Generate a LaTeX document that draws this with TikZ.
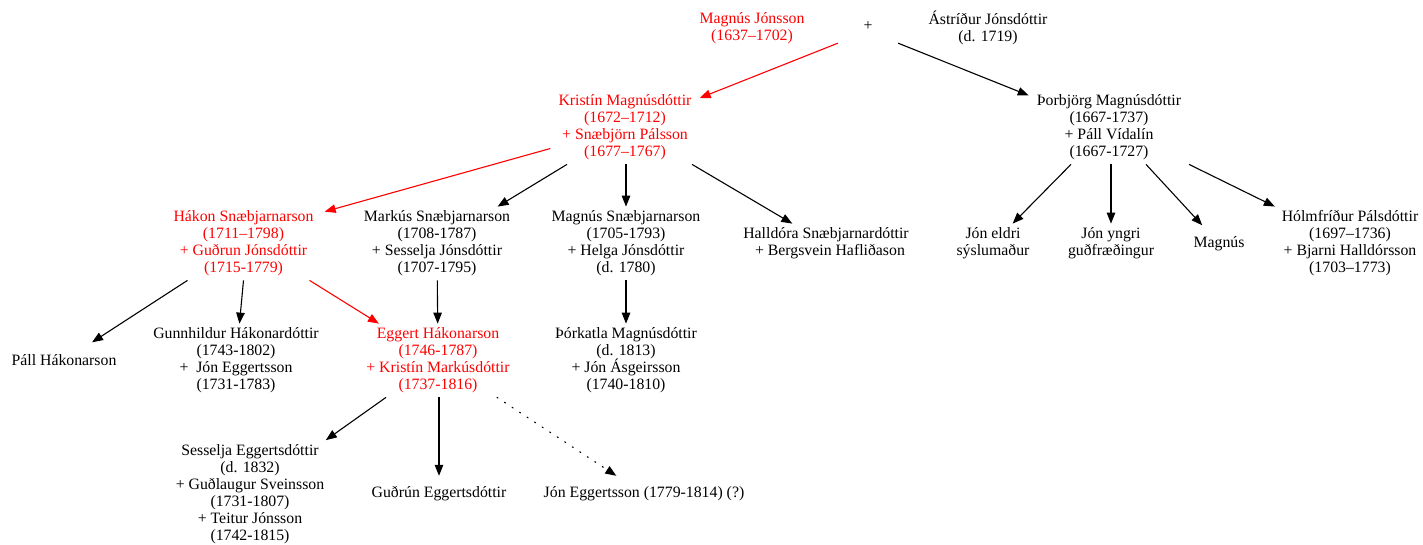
\documentclass[tikz,border=0pt]{standalone}
\usepackage{fontspec}
\setmainfont{Liberation Serif}
\usetikzlibrary{arrows.meta}
\begin{document}
\begin{tikzpicture}[x=1pt,y=1pt,
  person/.style={align=center,inner xsep=8pt,inner ysep=4pt,minimum height=36pt,
    font=\fontsize{15.8pt}{17pt}\selectfont},
  hl/.style={person,text=red},
  edge/.style={draw=black,line width=1.1pt,-{Triangle[length=11pt,width=8.5pt]}},
  redge/.style={edge,draw=red,-{Triangle[length=11pt,width=8.5pt,fill=red]}},
  dotedge/.style={edge,line cap=round,dash pattern=on 1.2pt off 7.8pt}]
\useasboundingbox (0,0) rectangle (1423,-544);
% generation 0
\node[hl] (magnus) at (752,-28) {Magnús Jónsson\\(1637–1702)};
\node[person,minimum width=60pt,minimum height=34pt,inner sep=0pt] (plus) at (868,-26) {+};
\node[person] (astridur) at (988,-28) {Ástríður Jónsdóttir\\(d. 1719)};
% generation 1
\node[hl] (kristin) at (625,-127.5) {Kristín Magnúsdóttir\\(1672–1712)\\+ Snæbjörn Pálsson\\(1677–1767)};
\node[person] (thorbjorg) at (1109,-127.5) {Þorbjörg Magnúsdóttir\\(1667-1737)\\+ Páll Vídalín\\(1667-1727)};
% generation 2
\node[hl] (hakon) at (243.5,-243.5) {Hákon Snæbjarnarson\\(1711–1798)\\+ Guðrun Jónsdóttir\\(1715-1779)};
\node[person] (markus) at (437,-243.5) {Markús Snæbjarnarson\\(1708-1787)\\+ Sesselja Jónsdóttir\\(1707-1795)};
\node[person] (magnusS) at (626,-243.5) {Magnús Snæbjarnarson\\(1705-1793)\\+ Helga Jónsdóttir\\(d. 1780)};
\node[person] (halldora) at (826,-243.5) {Halldóra Snæbjarnardóttir\\\ \ + Bergsvein Hafliðason};
\node[person] (joneldri) at (993,-243.5) {Jón eldri\\sýslumaður};
\node[person] (jonyngri) at (1111,-243.5) {Jón yngri\\guðfræðingur};
\node[person] (magnusP) at (1219,-243.5) {Magnús};
\node[person] (holmfridur) at (1350,-243.5) {Hólmfríður Pálsdóttir\\(1697–1736)\\+ Bjarni Halldórsson\\(1703–1773)};
% generation 3
\node[person] (pall) at (64,-360.5) {Páll Hákonarson};
\node[person] (gunnhildur) at (236,-360.5) {Gunnhildur Hákonardóttir\\(1743-1802)\\+\ \ Jón Eggertsson\\(1731-1783)};
\node[hl] (eggert) at (438,-360.5) {Eggert Hákonarson\\(1746-1787)\\+ Kristín Markúsdóttir\\(1737-1816)};
\node[person] (thorkatla) at (626,-360.5) {Þórkatla Magnúsdóttir\\(d. 1813)\\+ Jón Ásgeirsson\\(1740-1810)};
% generation 4
\node[person] (sesselja) at (250,-494) {Sesselja Eggertsdóttir\\(d. 1832)\\+ Guðlaugur Sveinsson\\(1731-1807)\\+ Teitur Jónsson\\(1742-1815)};
\node[person] (gudrun) at (439,-494) {Guðrún Eggertsdóttir};
\node[person] (joneg) at (644,-494) {Jón Eggertsson (1779-1814) (?)};
% edges
\draw[redge] (plus.south west) -- (kristin);
\draw[edge] (plus.south east) -- (thorbjorg);
\draw[redge] ([yshift=-21pt]kristin.west) -- ([xshift=3pt,yshift=-5pt]hakon.north east);
\draw[edge] ([xshift=-58pt]kristin.south) -- (markus);
\draw[edge] (kristin.south -| magnusS) -- (magnusS);
\draw[edge] ([xshift=67pt]kristin.south) -- (halldora);
\draw[edge] ([xshift=-38pt]thorbjorg.south) -- (joneldri);
\draw[edge] (thorbjorg.south -| jonyngri) -- (jonyngri);
\draw[edge] ([xshift=37pt]thorbjorg.south) -- (magnusP);
\draw[edge] ([xshift=80pt]thorbjorg.south) -- (holmfridur);
\draw[edge] ([xshift=-56pt]hakon.south) -- (pall);
\draw[edge] (hakon.south) -- (gunnhildur);
\draw[redge] ([xshift=66pt]hakon.south) -- (eggert);
\draw[edge] (markus) -- (eggert);
\draw[edge] (magnusS) -- (thorkatla);
\draw[edge] ([xshift=-52pt]eggert.south) -- (sesselja);
\draw[edge] (eggert.south -| gudrun) -- (gudrun);
\draw[dotedge] ([xshift=59pt]eggert.south) -- (joneg);
\end{tikzpicture}
\end{document}
